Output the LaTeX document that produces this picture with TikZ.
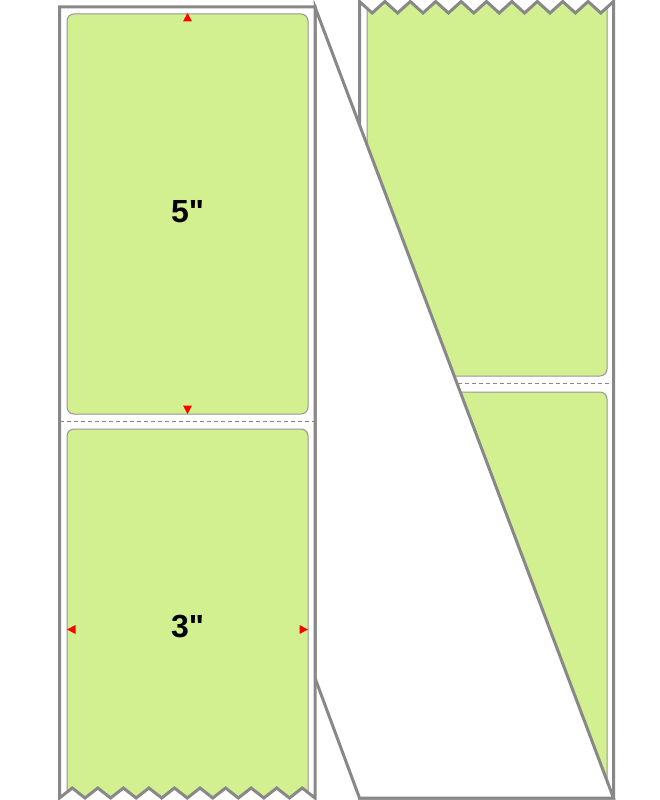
\documentclass[tikz,border=0pt]{standalone}
\usepackage{fontspec}
\newfontfamily\lab{Liberation Sans}[Ligatures=TeXOff]
\definecolor{lgreen}{RGB}{211,240,145}
\definecolor{framegray}{RGB}{136,136,136}
\definecolor{edgegray}{RGB}{150,150,150}
\tikzset{
  frame/.style={draw=framegray, line width=3pt, line join=miter},
  labelfill/.style={fill=lgreen, rounded corners=7pt},
  labeledge/.style={draw=edgegray, line width=1pt, rounded corners=7pt},
  perf/.style={draw=framegray, line width=1pt, dash pattern=on 4pt off 3pt},
  marker/.style={fill=red},
  size/.style={font=\lab\bfseries\fontsize{32}{32}\selectfont, text=black, inner sep=0pt}
}
\begin{document}
\begin{tikzpicture}[x=1pt,y=-1pt]
\useasboundingbox (0,0) rectangle (660,800);
% ---------- right strip ----------
\fill[labelfill] (367,0) -- (367,376) -- (607,376) -- (607,0) -- cycle;
\draw[labeledge] (367,0) -- (367,376) -- (607,376) -- (607,0);
\fill[labelfill] (367,795) -- (367,392) -- (607,392) -- (607,795) -- cycle;
\draw[labeledge] (367,795) -- (367,392) -- (607,392) -- (607,795);
\fill[white] (359.5,0) -- (359.5,1.5) \foreach \i in {1,...,20}{ -- ({359.5+\i*12.7},{ifthenelse(isodd(\i),13,1.5)}) } -- (613.5,0) -- cycle;
\draw[perf] (359.5,383) -- (613.5,383);
\draw[frame] (359.5,1.5) \foreach \i in {1,...,20}{ -- ({359.5+\i*12.7},{ifthenelse(isodd(\i),13,1.5)}) } -- (613.5,798) -- (359.5,798) -- cycle;
% ---------- fold (white cover) ----------
\draw[frame, fill=white] (315,7) -- (613.5,798) -- (359.5,798) -- (315,678) -- cycle;
% ---------- left strip ----------
\fill[white] (59.5,7) rectangle (315,798);
\fill[labelfill] (67,14) rectangle (308,414);
\draw[labeledge] (67,14) rectangle (308,414);
\fill[labelfill] (67,799) -- (67,429) -- (308,429) -- (308,799) -- cycle;
\draw[labeledge] (67,799) -- (67,429) -- (308,429) -- (308,799);
\fill[white] (59.5,800) -- (59.5,798) \foreach \i in {1,...,20}{ -- ({59.5+\i*12.775},{ifthenelse(isodd(\i),788,798)}) } -- (315,800) -- cycle;
\draw[perf] (60,421) -- (315,421);
\draw[frame] (315,7) -- (59.5,7) -- (59.5,798) \foreach \i in {1,...,20}{ -- ({59.5+\i*12.775},{ifthenelse(isodd(\i),788,798)}) } -- cycle;
% ---------- markers ----------
\fill[marker] (187.5,13) -- (183,21.5) -- (192,21.5) -- cycle;
\fill[marker] (187.5,414) -- (183,405.5) -- (192,405.5) -- cycle;
\fill[marker] (67,629.5) -- (75.5,625) -- (75.5,634) -- cycle;
\fill[marker] (308,629.5) -- (299.5,625) -- (299.5,634) -- cycle;
% ---------- sizes ----------
\node[size] (len) at (187.5,212) {5"};
\node[size] (wid) at (187.5,626) {3"};
\end{tikzpicture}
\end{document}
